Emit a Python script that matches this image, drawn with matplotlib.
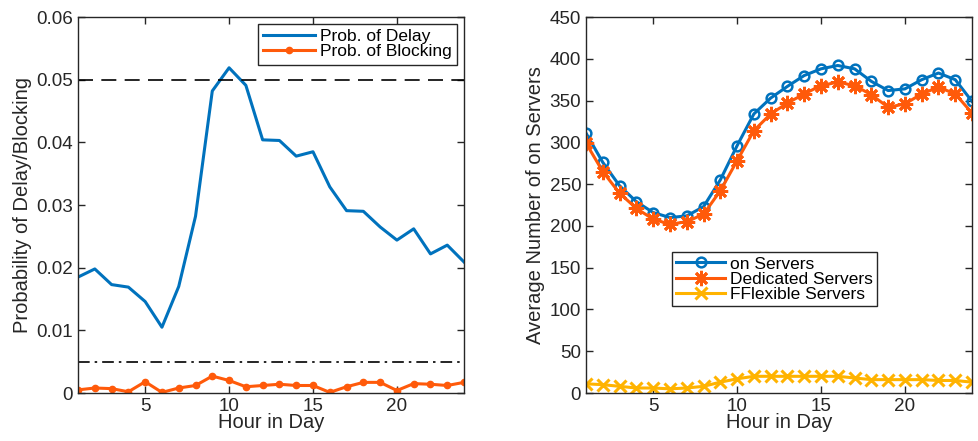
import numpy as np
import matplotlib.pyplot as plt

plt.rcParams['font.family'] = ['Liberation Sans', 'DejaVu Sans']

hours = list(range(1, 25))

prob_delay = [0.0185, 0.0198, 0.0173, 0.0169, 0.0146, 0.0105, 0.0170, 0.0282,
              0.0482, 0.0519, 0.0491, 0.0404, 0.0403, 0.0378, 0.0385, 0.0329,
              0.0291, 0.0290, 0.0265, 0.0244, 0.0262, 0.0222, 0.0236, 0.0209]
prob_block = [0.0005, 0.0008, 0.0007, 0.0002, 0.0018, 0.0001, 0.0008, 0.0012,
              0.0027, 0.0020, 0.0010, 0.0012, 0.0014, 0.0012, 0.0012, 0.0001,
              0.0010, 0.0017, 0.0017, 0.0004, 0.0015, 0.0014, 0.0012, 0.0017]
delay_target = 0.05
block_target = 0.005

on_servers = [311, 276, 248, 229, 216, 210, 212, 223, 255, 296, 334, 353,
              367, 380, 388, 392, 388, 373, 362, 364, 375, 383, 375, 349]
dedicated = [299, 265, 239, 221, 208, 202, 205, 214, 242, 278, 314, 334,
             347, 358, 368, 372, 368, 357, 342, 346, 358, 366, 358, 335]
flexible = [11, 10, 8, 6, 6, 5, 6, 8, 13, 17, 20, 20,
            20, 20, 20, 20, 18, 16, 16, 16, 16, 15, 15, 13]

blue = '#0072BD'
red = '#FF5A0A'
yellow = '#FFB300'
txt = '#262626'


def style_axes(ax):
    ax.tick_params(direction='in', top=True, right=True, length=5,
                   labelsize=13.6, colors=txt, width=1)
    for s in ax.spines.values():
        s.set_color(txt)
        s.set_linewidth(1)
    ax.set_xlim(1, 24)
    ax.set_xticks([5, 10, 15, 20])
    ax.set_xlabel('Hour in Day', fontsize=14.5, color=txt, labelpad=-1)


fig = plt.figure(figsize=(9.79, 4.41), dpi=100)
ax1 = fig.add_axes([0.0797, 0.1088, 0.3943, 0.8526])
ax2 = fig.add_axes([0.5986, 0.1088, 0.3943, 0.8526])

# left panel
ax1.plot(hours, prob_delay, color=blue, lw=2.2, label='Prob. of Delay')
ax1.plot(hours, prob_block, color=red, lw=2.2, marker='o', ms=4.5,
         label='Prob. of Blocking')
ax1.axhline(delay_target, color='k', lw=1.2, ls=(0, (9, 5)))
ax1.axhline(block_target, color='k', lw=1.2, ls=(0, (7, 3, 1.5, 3)))
ax1.set_ylim(0, 0.06)
ax1.set_yticks([0, 0.01, 0.02, 0.03, 0.04, 0.05, 0.06])
ax1.set_yticklabels(['0', '0.01', '0.02', '0.03', '0.04', '0.05', '0.06'])
ax1.set_ylabel('Probability of Delay/Blocking', fontsize=14.5, color=txt, labelpad=3)
style_axes(ax1)
leg1 = ax1.legend(loc='upper right', fontsize=12.5, handlelength=3.0,
                  labelspacing=0.0, borderpad=0.3, handletextpad=0.3,
                  borderaxespad=0.4, fancybox=False, framealpha=1)
leg1.get_frame().set_edgecolor(txt)
leg1.get_frame().set_linewidth(1)

# right panel
ax2.plot(hours, on_servers, color=blue, lw=2.2, marker='o', ms=7,
         mfc='none', mew=1.8, label='on Servers')
ax2.plot(hours, dedicated, color=red, lw=2.2, marker=(8, 2, 0), ms=11,
         mew=2, label='Dedicated Servers')
ax2.plot(hours, flexible, color=yellow, lw=2.2, marker='x', ms=8,
         mew=2.2, label='FFlexible Servers')
ax2.set_ylim(0, 450)
ax2.set_yticks(np.arange(0, 451, 50))
ax2.set_ylabel('Average Number of on Servers', fontsize=14.5, color=txt, labelpad=3)
style_axes(ax2)
leg2 = ax2.legend(loc='upper left', bbox_to_anchor=(0.223, 0.375),
                  fontsize=12.5, handlelength=2.8, labelspacing=0.0,
                  borderpad=0.25, handletextpad=0.3, borderaxespad=0,
                  fancybox=False, framealpha=1)
leg2.get_frame().set_edgecolor(txt)
leg2.get_frame().set_linewidth(1)

fig.savefig('out.png', dpi=100)
